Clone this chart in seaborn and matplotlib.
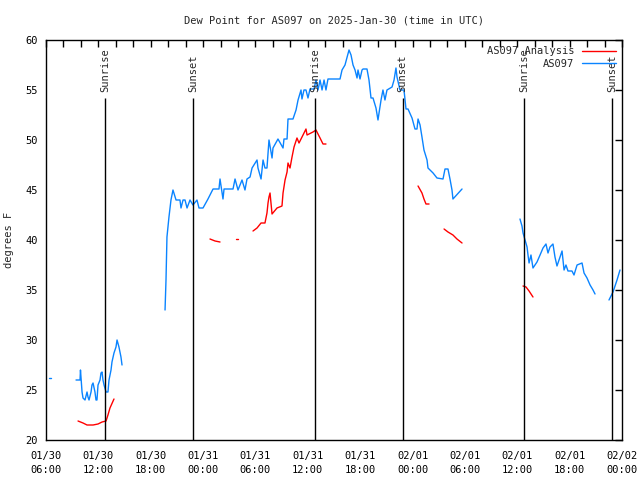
import numpy as np
import pandas as pd
import matplotlib
matplotlib.use("Agg")
import matplotlib.pyplot as plt
import matplotlib.dates as mdates
from matplotlib.lines import Line2D
from matplotlib.ticker import MultipleLocator
import seaborn as sns

START = pd.Timestamp("2025-01-30 06:00")
END = pd.Timestamp("2025-02-02 00:00")

# ---- AS097 observations (hours after 01/30 06:00 UTC, dew point F) ----
obs_h0 = [0.40, 0.55]
obs_v0 = [26.2, 26.2]

obs_h1 = [3.44, 3.90, 3.95, 4.13, 4.24, 4.47, 4.70, 4.81, 4.93, 5.16, 5.27, 5.39,
          5.61, 5.73, 5.84, 5.96, 6.19, 6.30, 6.42, 6.53, 6.65, 6.88, 7.10, 7.22,
          7.45, 7.56, 7.79, 8.02, 8.14, 8.36, 8.59, 8.71]
obs_v1 = [26.0, 26.0, 27.0, 24.8, 24.2, 24.0, 24.8, 24.3, 24.0, 24.8, 25.5, 25.7,
          24.8, 24.0, 24.0, 25.5, 26.0, 26.7, 26.8, 26.0, 25.5, 24.8, 24.8, 26.0,
          27.0, 27.8, 28.7, 29.3, 30.0, 29.3, 28.3, 27.5]

obs_h2 = [13.64, 13.75, 13.86, 14.09, 14.32, 14.55, 14.90, 15.35, 15.47, 15.70,
          15.93, 16.16, 16.50, 16.84, 17.30, 17.53, 17.99, 18.56, 19.14, 19.82,
          19.94, 20.28, 20.40, 21.43, 21.66, 22.00, 22.46, 22.80, 23.03, 23.38,
          23.61, 24.18, 24.29, 24.64, 24.87, 25.09, 25.32, 25.55, 25.90, 26.01,
          26.58, 27.16, 27.27, 27.62, 27.73, 28.30, 28.65, 28.88, 29.22, 29.33,
          29.56, 29.79, 30.02, 30.25, 30.71, 30.94, 31.17, 31.40, 31.63, 31.86,
          32.08, 32.31, 33.69, 33.92, 34.26, 34.72, 34.95, 35.18, 35.41, 35.64,
          35.75, 35.98, 36.21, 36.33, 36.78, 37.01, 37.24, 37.47, 37.81, 38.04,
          38.16, 38.39, 38.61, 38.84, 39.07, 39.65, 39.88, 40.10, 40.22, 40.56,
          41.02, 41.25, 41.48, 41.94, 42.28, 42.51, 42.63, 42.86, 43.08, 43.31,
          43.66, 43.77, 44.35, 44.80, 45.49, 45.72, 46.06, 46.29, 46.52, 46.63,
          47.67]
obs_v2 = [33.0, 36.0, 40.3, 42.3, 44.0, 45.0, 44.0, 44.0, 43.2, 44.0,
          44.0, 43.2, 44.0, 43.5, 44.0, 43.2, 43.2, 44.1, 45.1, 45.1,
          46.1, 44.1, 45.1, 45.1, 46.1, 45.0, 46.0, 45.0, 46.1, 46.3,
          47.2, 48.0, 47.2, 46.1, 48.0, 47.2, 47.2, 50.0, 48.2, 49.2,
          50.1, 49.2, 50.1, 50.1, 52.1, 52.1, 53.0, 54.0, 55.0, 54.1,
          55.0, 55.0, 54.2, 55.1, 55.1, 56.0, 55.0, 56.0, 55.0, 56.0,
          55.0, 56.1, 56.1, 57.0, 57.5, 59.0, 58.5, 57.5, 57.0, 56.2,
          57.0, 56.1, 57.0, 57.1, 57.1, 56.0, 54.2, 54.2, 53.2, 52.0,
          52.7, 54.0, 55.0, 54.0, 55.0, 55.3, 56.0, 57.2, 56.3, 55.0,
          55.0, 53.1, 53.1, 52.2, 51.1, 51.1, 52.1, 51.5, 50.3, 49.0,
          48.0, 47.2, 46.7, 46.2, 46.1, 47.1, 47.1, 46.1, 45.0, 44.1,
          45.1]

obs_h3 = [54.31, 54.54, 54.66, 54.89, 55.12, 55.23, 55.35, 55.57, 55.80, 56.26,
          56.61, 56.95, 57.29, 57.52, 57.75, 58.09, 58.32, 58.55, 58.90, 59.13,
          59.36, 59.58, 59.81, 60.27, 60.50, 60.85, 61.42, 61.65, 61.99, 62.34,
          62.68, 62.91]
obs_v3 = [42.1, 41.4, 40.7, 40.0, 39.3, 38.5, 37.7, 38.5, 37.2, 37.8,
          38.5, 39.2, 39.6, 38.7, 39.3, 39.6, 38.3, 37.4, 38.3, 38.9,
          37.0, 37.5, 36.9, 36.9, 36.5, 37.5, 37.7, 36.7, 36.2, 35.5,
          35.0, 34.6]

obs_h4 = [64.51, 64.97, 65.43, 65.77]
obs_v4 = [34.0, 34.8, 36.0, 37.0]

# ---- AS097 Analysis ----
ana_h0 = [3.67, 4.24, 4.70, 5.39, 5.96, 6.42, 6.88, 7.10, 7.33, 7.79]
ana_v0 = [21.9, 21.7, 21.5, 21.5, 21.6, 21.8, 21.9, 22.5, 23.2, 24.1]

ana_h1 = [18.79, 19.37, 19.94]
ana_v1 = [40.1, 39.9, 39.8]

ana_h2 = [21.80, 21.98]
ana_v2 = [40.1, 40.1]

ana_h3 = [23.72, 24.18, 24.64, 25.09, 25.32, 25.44, 25.55, 25.67, 25.90, 26.47,
          27.04, 27.16, 27.39, 27.62, 27.73, 27.96, 28.19, 28.42, 28.76, 28.99,
          29.45, 29.79, 29.91, 30.59, 30.94, 31.05, 31.40, 31.74, 32.08]
ana_v3 = [40.9, 41.2, 41.7, 41.7, 42.7, 43.7, 44.3, 44.7, 42.6, 43.2,
          43.4, 44.7, 46.0, 46.8, 47.7, 47.2, 48.3, 49.3, 50.2, 49.7,
          50.5, 51.1, 50.5, 50.8, 51.0, 50.8, 50.2, 49.6, 49.6]

ana_h4 = [42.63, 43.08, 43.31, 43.54, 43.89]
ana_v4 = [45.4, 44.7, 44.1, 43.6, 43.6]

ana_h5 = [45.61, 46.06, 46.63, 47.09, 47.67]
ana_v5 = [41.1, 40.8, 40.5, 40.1, 39.7]

ana_h6 = [54.66, 55.00, 55.35, 55.80]
ana_v6 = [35.4, 35.3, 34.9, 34.3]

sunrise_times = ["2025-01-30 12:47", "2025-01-31 12:48", "2025-02-01 12:48"]
sunset_times = ["2025-01-30 22:51", "2025-01-31 22:52", "2025-02-01 22:53"]

series_names = ["AS097 Analysis", "AS097"]
series_colors = {"AS097 Analysis": "#ff0000", "AS097": "#0a84ff"}

segments = {
    "AS097 Analysis": [(ana_h0, ana_v0), (ana_h1, ana_v1), (ana_h2, ana_v2),
                       (ana_h3, ana_v3), (ana_h4, ana_v4), (ana_h5, ana_v5),
                       (ana_h6, ana_v6)],
    "AS097": [(obs_h0, obs_v0), (obs_h1, obs_v1), (obs_h2, obs_v2),
              (obs_h3, obs_v3), (obs_h4, obs_v4)],
}

rows = []
for name in series_names:
    for i, (hs, vs) in enumerate(segments[name]):
        for h, v in zip(hs, vs):
            rows.append({"time": START + pd.Timedelta(hours=h), "value": v,
                         "series": name, "seg": f"{name}-{i}"})
df = pd.DataFrame(rows)

sns.set_style("white")
plt.rcParams['font.family'] = ['DejaVu Sans Mono', 'DejaVu Sans']

fig = plt.figure(figsize=(6.4, 4.8), dpi=100)
ax = fig.add_axes([46 / 640, 40 / 480, 576 / 640, 400 / 480])

sns.lineplot(data=df, x="time", y="value", hue="series", units="seg",
             estimator=None, sort=False, palette=series_colors, linewidth=1.0,
             legend=False, ax=ax)

for t in sunrise_times:
    tt = pd.Timestamp(t)
    ax.vlines(tt, 20, 54.2, color="black", linewidth=1.0)
    ax.text(tt, 54.8, "Sunrise", rotation=90, ha="center", va="bottom", fontsize=7.5)
for t in sunset_times:
    tt = pd.Timestamp(t)
    ax.vlines(tt, 20, 54.2, color="black", linewidth=1.0)
    ax.text(tt, 54.8, "Sunset", rotation=90, ha="center", va="bottom", fontsize=7.5)

ax.set_xlim(START, END)
ax.set_ylim(20, 60)
ax.xaxis.set_major_locator(mdates.HourLocator(byhour=[0, 6, 12, 18]))
ax.xaxis.set_minor_locator(mdates.HourLocator(byhour=range(0, 24, 2)))
ax.xaxis.set_major_formatter(mdates.DateFormatter("%m/%d\n%H:%M"))
ax.yaxis.set_major_locator(MultipleLocator(5))
ax.tick_params(which="both", direction="in", length=5, width=1, top=True,
               right=True, labelsize=7.5, colors="black")
ax.tick_params(axis="x", which="major", pad=8)
ax.tick_params(axis="y", which="major", pad=6)
for lbl in ax.get_xticklabels():
    lbl.set_linespacing(1.45)
for s in ax.spines.values():
    s.set_color("black")
    s.set_linewidth(1.0)

ax.set_xlabel("")
ax.set_ylabel("degrees F", fontsize=7.5, labelpad=8)
ax.set_title("Dew Point for AS097 on 2025-Jan-30 (time in UTC)", fontsize=7.5, pad=12)

handles = [Line2D([0], [0], color=series_colors[n], lw=1.0) for n in series_names]
ax.legend(handles, series_names, loc="upper right", frameon=False, markerfirst=False,
          handlelength=3.2, fontsize=7.5, borderaxespad=0.2, labelspacing=0.25,
          handletextpad=0.8)

fig.savefig("out.png", dpi=100)
